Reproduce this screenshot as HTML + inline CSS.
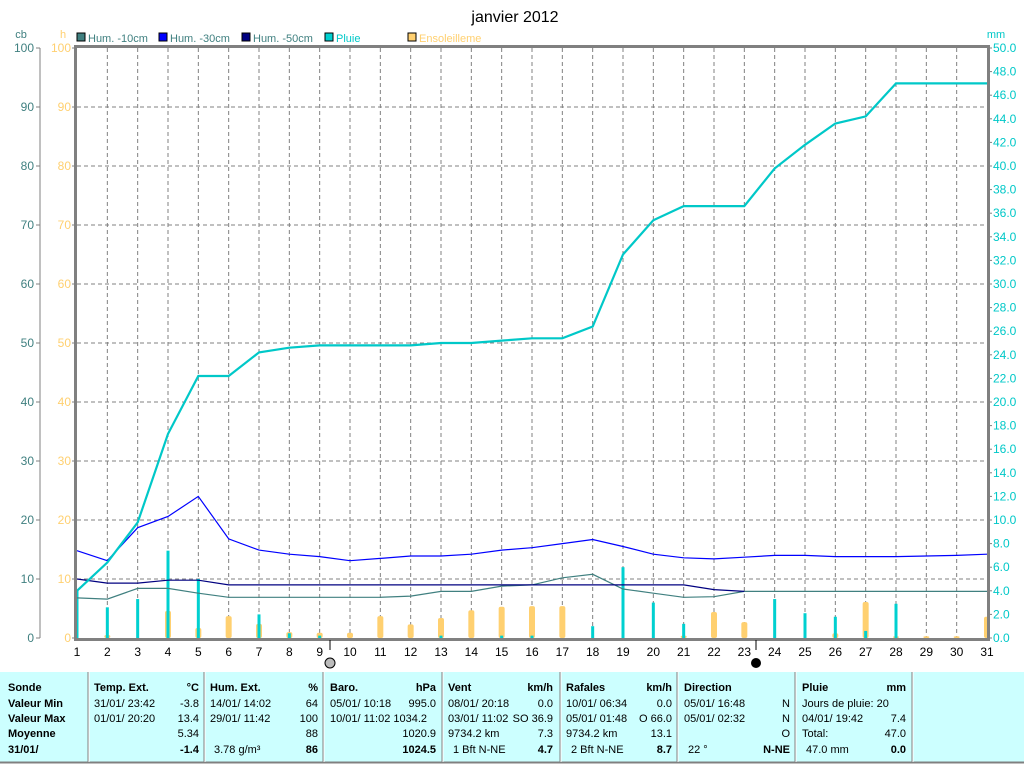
<!DOCTYPE html>
<html><head><meta charset="utf-8"><style>
body{margin:0;background:#fff;}
svg{display:block;font-family:"Liberation Sans",sans-serif;}
</style></head><body>
<svg id="c" width="1024" height="764">
<rect x="0" y="0" width="1024" height="764" fill="#fff"/>
<text x="515" y="22" font-size="16" text-anchor="middle">janvier 2012</text>
<text x="21" y="38" font-size="11" fill="#408080" text-anchor="middle">cb</text>
<text x="63" y="38" font-size="11" fill="#ffd070" text-anchor="middle">h</text>
<text x="996" y="38" font-size="11" fill="#00c8c8" text-anchor="middle">mm</text>
<g id="legend" font-size="11"></g>
<g id="grid"></g>
<g id="marks"></g>
<g id="axes"></g>
<g id="table"></g>
</svg>
<script>
const days=[1,2,3,4,5,6,7,8,9,10,11,12,13,14,15,16,17,18,19,20,21,22,23,24,25,26,27,28,29,30,31];
const hum10=[6.8,6.6,8.4,8.4,7.6,6.9,6.9,6.9,6.9,6.9,6.9,7.1,7.9,7.9,8.8,9.0,10.2,10.8,8.3,7.6,6.9,7.0,7.9,7.9,7.9,7.9,7.9,7.9,7.9,7.9,7.9];
const hum30=[14.8,13.1,18.7,20.6,24.0,16.8,14.9,14.2,13.8,13.1,13.5,13.9,13.9,14.2,14.9,15.3,16.0,16.7,15.5,14.2,13.6,13.4,13.7,14.0,14.0,13.8,13.8,13.8,13.9,14.0,14.2];
const hum50=[10.0,9.3,9.3,9.8,9.8,9.0,9.0,9.0,9.0,9.0,9.0,9.0,9.0,9.0,9.0,9.0,9.0,9.0,9.0,9.0,9.0,8.2,7.9,null,null,null,null,null,null,null,null];
const rainCum=[4.0,6.4,9.8,17.3,22.2,22.2,24.2,24.6,24.8,24.8,24.8,24.8,25.0,25.0,25.2,25.4,25.4,26.4,32.5,35.4,36.6,36.6,36.6,39.8,41.8,43.6,44.2,47.0,47.0,47.0,47.0];
const rainDay=[4.0,2.6,3.3,7.4,5.0,0,2.0,0.4,0.2,0,0,0,0.2,0,0.2,0.2,0,1.0,6.0,3.0,1.2,0,0,3.3,2.1,1.8,0.6,2.9,0,0,0];
const sun=[0,0.5,0,4.6,1.7,3.7,2.4,1.0,0.9,0.9,3.7,2.3,3.4,4.7,5.3,5.4,5.4,0,0,0,0.4,4.4,2.7,0,0,0.8,6.1,0.3,0.3,0.3,3.6];
const leftTicks=[0,10,20,30,40,50,60,70,80,90,100];
const rightTicks=[0,2,4,6,8,10,12,14,16,18,20,22,24,26,28,30,32,34,36,38,40,42,44,46,48,50];

const NS="http://www.w3.org/2000/svg";
const X0=77,X1=987,Y0=638,Y1=48;
const xs=d=>X0+(d-1)*(X1-X0)/30;
const yL=v=>Y0-v*(Y0-Y1)/100;
const yR=v=>Y0-v*(Y0-Y1)/50;
function mk(tag,attrs,parent,txt){const e=document.createElementNS(NS,tag);for(const k in attrs)e.setAttribute(k,attrs[k]);if(txt!==undefined)e.textContent=txt;parent.appendChild(e);return e;}
const grid=document.getElementById('grid'),marks=document.getElementById('marks'),axes=document.getElementById('axes');

// grid
leftTicks.forEach(v=>{if(v>0&&v<100){const l=mk('line',{x1:X0,x2:X1,y1:yL(v),y2:yL(v),stroke:'#808080','stroke-dasharray':'4,3'},grid);

}});
days.forEach(d=>{if(d>1&&d<31){const l=mk('line',{x1:xs(d),x2:xs(d),y1:Y1,y2:Y0,stroke:'#808080','stroke-dasharray':'4,3'},grid);

}});

// sunshine bars
days.forEach((d,i)=>{if(sun[i]>0){const h=Y0-yL(sun[i]);const r=mk('rect',{x:xs(d)-3,y:yL(sun[i]),width:6,height:h,rx:2,fill:'#ffd070'},marks);

}});
// rain bars
days.forEach((d,i)=>{if(rainDay[i]>0){const r=mk('rect',{x:xs(d)-1.5,y:yR(rainDay[i]),width:3,height:Y0-yR(rainDay[i]),fill:'#00d0d0'},marks);

}});
function line(arr,yf,col,w,name){let p='';arr.forEach((v,i)=>{if(v===null)return;p+=(p?'L':'M')+xs(days[i]).toFixed(1)+','+yf(v).toFixed(1);});
const e=mk('path',{d:p,fill:'none',stroke:col,'stroke-width':w},marks);

}
line(hum10,yL,'#408080',1.2,'hum-10cm-line');
line(hum50,yL,'#000080',1.2,'hum-50cm-line');
line(hum30,yL,'#0000ff',1.2,'hum-30cm-line');
line(rainCum,yR,'#00c8c8',2.2,'rain-cumulative-line');

// axes
mk('line',{x1:40,x2:40,y1:Y1,y2:Y0,stroke:'#808080'},axes);
mk('rect',{x:X0-1.5,y:Y1-1.5,width:X1-X0+3,height:Y0-Y1+3,fill:'none',stroke:'#808080','stroke-width':3},axes);
leftTicks.forEach(v=>{
 mk('line',{x1:36,x2:40,y1:yL(v),y2:yL(v),stroke:'#808080'},axes);
 mk('line',{x1:X0-5,x2:X0,y1:yL(v),y2:yL(v),stroke:'#808080'},axes);
 const t1=mk('text',{x:34,y:yL(v)+4,'font-size':12,fill:'#408080','text-anchor':'end'},axes,String(v));
 
 
 const t2=mk('text',{x:71,y:yL(v)+4,'font-size':12,fill:'#ffd070','text-anchor':'end'},axes,String(v));
 
 
});
rightTicks.forEach(v=>{
 mk('line',{x1:X1,x2:X1+5,y1:yR(v),y2:yR(v),stroke:'#808080'},axes);
 const t=mk('text',{x:993,y:yR(v)+4,'font-size':12,fill:'#00c8c8'},axes,v.toFixed(1));
 
 
});
days.forEach(d=>{
 const t=mk('text',{x:xs(d),y:656,'font-size':12,'text-anchor':'middle'},axes,String(d));
 
 
});
mk('line',{x1:330,x2:330,y1:640,y2:650,stroke:'#000'},axes);
mk('circle',{cx:330,cy:663,r:5,fill:'#bbb',stroke:'#000'},axes);
mk('line',{x1:756,x2:756,y1:640,y2:650,stroke:'#000'},axes);
mk('circle',{cx:756,cy:663,r:5,fill:'#000'},axes);

// legend
const lg=document.getElementById('legend');
[['Hum. -10cm','#408080','#408080',77],['Hum. -30cm','#0000ff','#408080',159],['Hum. -50cm','#000080','#408080',242],['Pluie','#00d0d0','#00c8c8',325],['Ensoleilleme','#ffd070','#ffd070',408]].forEach(l=>{
 mk('rect',{x:l[3],y:33,width:8,height:8,fill:l[1],stroke:'#000'},lg);
 const t=mk('text',{x:l[3]+11,y:42,'font-size':11,fill:l[2]},lg,l[0]);
 
 
});

// table
const tb=document.getElementById('table');
mk('rect',{x:0,y:672,width:1024,height:90,fill:'#ccffff'},tb);
mk('line',{x1:0,x2:1024,y1:762.5,y2:762.5,stroke:'#808080','stroke-width':2},tb);
[88,204,323,442,560,677,795,912].forEach(x=>{mk('line',{x1:x,x2:x,y1:672,y2:762,stroke:'#808080'},tb);mk('line',{x1:x+1,x2:x+1,y1:672,y2:762,stroke:'#fff'},tb);});
const rows=[687,703,718,733,749];
function T(x,r,s,opt){const a={x:x,y:rows[r]+4,'font-size':11};if(opt&&opt.includes('e'))a['text-anchor']='end';if(opt&&opt.includes('b'))a['font-weight']='bold';const t=mk('text',a,tb,s);

}
['Sonde','Valeur Min','Valeur Max','Moyenne','31/01/'].forEach((s,i)=>T(8,i,s,'b'));
T(94,0,'Temp. Ext.','b');T(199,0,'°C','eb');T(94,1,'31/01/  23:42');T(199,1,'-3.8','e');T(94,2,'01/01/  20:20');T(199,2,'13.4','e');T(199,3,'5.34','e');T(199,4,'-1.4','eb');
T(210,0,'Hum. Ext.','b');T(318,0,'%','eb');T(210,1,'14/01/  14:02');T(318,1,'64','e');T(210,2,'29/01/  11:42');T(318,2,'100','e');T(318,3,'88','e');T(214,4,'3.78 g/m³');T(318,4,'86','eb');
T(330,0,'Baro.','b');T(436,0,'hPa','eb');T(330,1,'05/01/  10:18');T(436,1,'995.0','e');T(330,2,'10/01/  11:02 1034.2');T(436,3,'1020.9','e');T(436,4,'1024.5','eb');
T(448,0,'Vent','b');T(553,0,'km/h','eb');T(448,1,'08/01/  20:18');T(553,1,'0.0','e');T(448,2,'03/01/  11:02');T(553,2,'SO 36.9','e');T(448,3,'9734.2 km');T(553,3,'7.3','e');T(453,4,'1 Bft N-NE');T(553,4,'4.7','eb');
T(566,0,'Rafales','b');T(672,0,'km/h','eb');T(566,1,'10/01/  06:34');T(672,1,'0.0','e');T(566,2,'05/01/  01:48');T(672,2,'O 66.0','e');T(566,3,'9734.2 km');T(672,3,'13.1','e');T(571,4,'2 Bft N-NE');T(672,4,'8.7','eb');
T(684,0,'Direction','b');T(684,1,'05/01/  16:48');T(790,1,'N','e');T(684,2,'05/01/  02:32');T(790,2,'N','e');T(790,3,'O','e');T(688,4,'22 °');T(790,4,'N-NE','eb');
T(802,0,'Pluie','b');T(906,0,'mm','eb');T(802,1,'Jours de pluie: 20');T(802,2,'04/01/  19:42');T(906,2,'7.4','e');T(802,3,'Total:');T(906,3,'47.0','e');T(806,4,'47.0 mm');T(906,4,'0.0','eb');
</script>
</body></html>
